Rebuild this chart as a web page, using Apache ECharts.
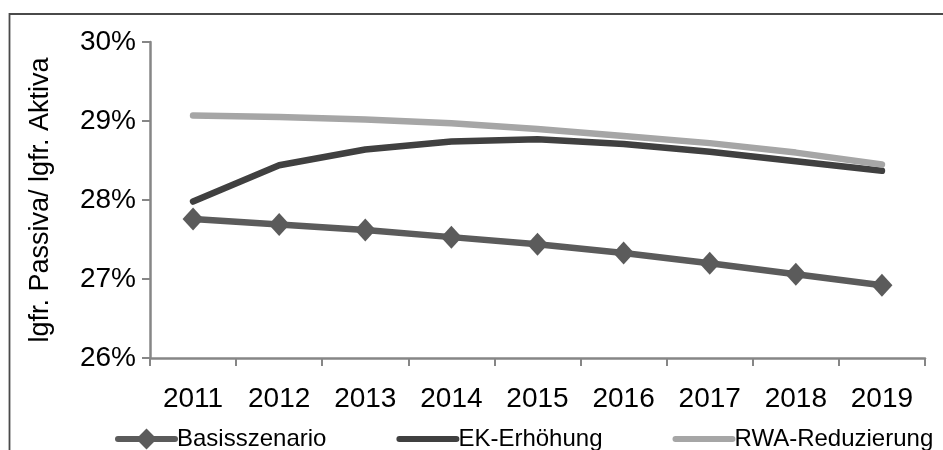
<!DOCTYPE html>
<html>
<head>
<meta charset="utf-8">
<script src="https://cdn.jsdelivr.net/npm/echarts@6/dist/echarts.min.js"></script>
<style>
  html, body { margin: 0; padding: 0; background: #ffffff; }
  #chart { width: 943px; height: 450px; }
</style>
</head>
<body>
<div id="chart"></div>
<script>
// Years on the category axis
const years = ['2011', '2012', '2013', '2014', '2015', '2016', '2017', '2018', '2019'];

// Ratio of liquid liabilities to liquid assets, in percent
const basisszenario = [27.76, 27.69, 27.62, 27.53, 27.44, 27.33, 27.20, 27.06, 26.92];
const ekErhoehung   = [27.98, 28.44, 28.64, 28.74, 28.77, 28.71, 28.61, 28.49, 28.37];
const rwaReduzierung = [29.07, 29.05, 29.02, 28.97, 28.90, 28.81, 28.72, 28.60, 28.45];

// Value axis range and step
const yMin = 26, yMax = 30, yStep = 1;

const FONT = 'Liberation Sans, Arial, sans-serif';
const AXIS_GRAY = '#868686';

const chart = echarts.init(document.getElementById('chart'), null, { renderer: 'canvas' });

chart.setOption({
  animation: false,
  backgroundColor: '#ffffff',
  textStyle: { fontFamily: FONT, color: '#000' },
  graphic: [{
    type: 'rect',
    shape: { x: 9.5, y: 14, width: 1000, height: 1000 },
    style: { fill: 'none', stroke: '#4a4a4a', lineWidth: 1.8 },
    silent: true,
    z: 0
  }],
  grid: { left: 150, right: 18, top: 42, bottom: 92, containLabel: false },
  legend: {
    left: 110,
    top: 422,
    itemWidth: 57,
    itemHeight: 26,
    itemGap: 70,
    lineStyle: { width: 6, cap: 'round' },
    textStyle: { fontFamily: FONT, fontSize: 24, color: '#000', padding: [0, 0, 0, -3] },
    data: [
      { name: 'Basisszenario' },
      { name: 'EK-Erhöhung', itemStyle: { opacity: 0 } },
      { name: 'RWA-Reduzierung', itemStyle: { opacity: 0 } }
    ]
  },
  xAxis: {
    type: 'category',
    data: years,
    boundaryGap: true,
    axisLine: { lineStyle: { color: AXIS_GRAY, width: 2.5 } },
    axisTick: { show: true, length: 8, lineStyle: { color: AXIS_GRAY, width: 2 } },
    axisLabel: { fontFamily: FONT, fontSize: 28, color: '#000', margin: 27 },
    splitLine: { show: false }
  },
  yAxis: {
    type: 'value',
    min: yMin,
    max: yMax,
    interval: yStep,
    name: 'lgfr. Passiva/ lgfr. Aktiva',
    nameLocation: 'middle',
    nameGap: 96,
    nameTextStyle: { fontFamily: FONT, fontSize: 27, color: '#000' },
    axisLine: { show: true, lineStyle: { color: AXIS_GRAY, width: 2.5 } },
    axisTick: { show: true, length: 8, lineStyle: { color: AXIS_GRAY, width: 2 } },
    axisLabel: { fontFamily: FONT, fontSize: 28, color: '#000', margin: 14, formatter: '{value}%' },
    splitLine: { show: false }
  },
  series: [
    {
      name: 'Basisszenario',
      type: 'line',
      data: basisszenario,
      symbol: 'diamond',
      symbolSize: [21, 23],
      itemStyle: { color: '#5b5b5b' },
      lineStyle: { color: '#5b5b5b', width: 6.5, cap: 'round' },
      z: 2
    },
    {
      name: 'EK-Erhöhung',
      type: 'line',
      data: ekErhoehung,
      symbol: 'none',
      itemStyle: { color: '#404040' },
      lineStyle: { color: '#404040', width: 6.5, cap: 'round', join: 'round' },
      z: 3
    },
    {
      name: 'RWA-Reduzierung',
      type: 'line',
      data: rwaReduzierung,
      symbol: 'none',
      itemStyle: { color: '#a6a6a6' },
      lineStyle: { color: '#a6a6a6', width: 6.5, cap: 'round', join: 'round' },
      z: 4
    }
  ]
});
</script>
</body>
</html>
